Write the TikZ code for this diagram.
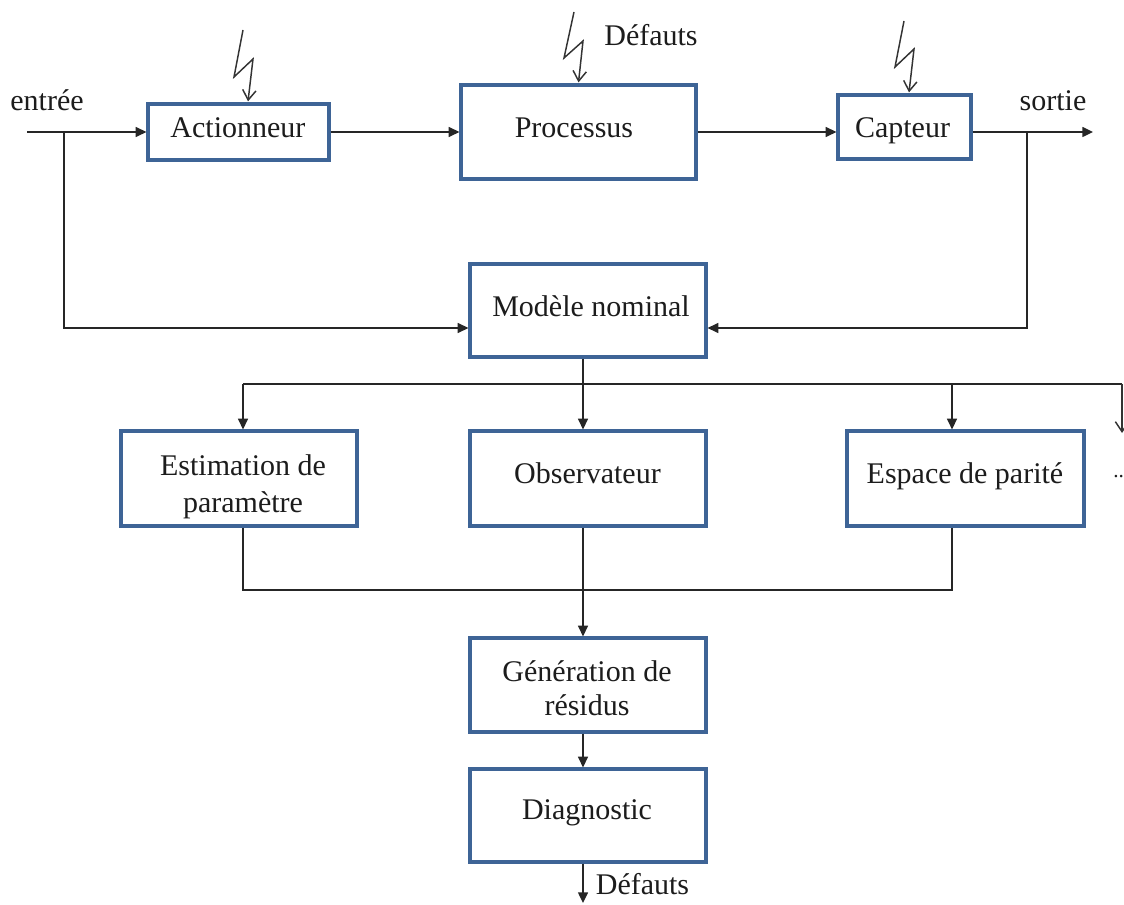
\documentclass[tikz,border=0pt]{standalone}
\usepackage{fontspec}
\setmainfont{Liberation Serif}
\usetikzlibrary{arrows.meta, calc}

\definecolor{boxblue}{RGB}{62,100,150}
\definecolor{txtgray}{RGB}{28,28,28}

\begin{document}
\begin{tikzpicture}[x=0.75pt,y=-0.75pt,
  block/.style={draw=boxblue,line width=2.4pt,rectangle,fill=white,inner sep=0pt},
  boxtext/.style={align=center,text=txtgray,font=\fontsize{22.5}{26}\selectfont,inner sep=0pt},
  oneline/.style={boxtext,text height=16pt,text depth=5pt},
  free/.style={text=txtgray,font=\fontsize{22.5}{26}\selectfont,inner sep=0pt,anchor=base},
  line/.style={line width=1.05pt,color=black!85},
  flow/.style={line,-{Triangle[length=8pt,width=7.5pt]}},
  bolt/.style={line width=1.1pt,color=black!80,-{Straight Barb[length=7.5pt,width=10pt]}}]
\useasboundingbox (0,0) rectangle (1124,905);
% top row
\node[block,minimum width=181pt*0.75,minimum height=56pt*0.75,label={[oneline,xshift=-0.4pt,yshift=1pt]center:Actionneur}] (act) at (238.5,132) {};
\node[block,minimum width=235pt*0.75,minimum height=94pt*0.75,label={[oneline,xshift=-3.4pt,yshift=1pt]center:Processus}] (proc) at (578.5,132) {};
\node[block,minimum width=133pt*0.75,minimum height=64pt*0.75,label={[oneline,xshift=-1.5pt,yshift=-2.75pt]center:Capteur}] (capt) at (904.5,127) {};
% model
\node[block,minimum width=236pt*0.75,minimum height=93pt*0.75,label={[oneline,xshift=2.25pt,yshift=1pt]center:Modèle nominal}] (model) at (588,310.5) {};
% methods
\node[block,minimum width=236pt*0.75,minimum height=95pt*0.75,label={[boxtext,font=\fontsize{22.5}{28}\selectfont,xshift=3pt,yshift=-6.3pt]center:Estimation de\\paramètre}] (estim) at (239,478.5) {};
\node[block,minimum width=236pt*0.75,minimum height=95pt*0.75,label={[oneline,xshift=-0.4pt,yshift=1.4pt]center:Observateur}] (obs) at (588,478.5) {};
\node[block,minimum width=237pt*0.75,minimum height=95pt*0.75,label={[oneline,xshift=-0.4pt,yshift=1.4pt]center:Espace de parité}] (parity) at (965.5,478.5) {};
% outputs
\node[block,minimum width=236pt*0.75,minimum height=94pt*0.75,label={[boxtext,xshift=-0.75pt,yshift=-2.5pt]center:Génération de\\résidus}] (resid) at (588,685) {};
\node[block,minimum width=236pt*0.75,minimum height=93pt*0.75,label={[oneline,xshift=-0.75pt,yshift=2.85pt]center:Diagnostic}] (diag) at (588,815.5) {};
% free texts
\node[free] (entree) at (47,111) {entrée};
\node[free] (sortie) at (1053,110.5) {sortie};
\node[free] (defauts) at (651,46) {Défauts};
\node[free] (defautsout) at (642.5,894) {Défauts};
\node[free,anchor=base west,font=\fontsize{16}{20}\selectfont] (dots) at (1113,477) {..};
% free ends
\coordinate (in) at (27,132);
\coordinate (out) at (1093,132);
\coordinate (inbranch) at (64,132);
\coordinate (outbranch) at (1027,132);
\coordinate (inlow) at (64,328);
\coordinate (outlow) at (1027,328);
\coordinate (busl) at (243,384);
\coordinate (busm) at (583,384);
\coordinate (busp) at (952,384);
\coordinate (busr) at (1122,384);
\coordinate (dotsin) at (1122,433);
\coordinate (suml) at (243,590);
\coordinate (summ) at (583,590);
\coordinate (sump) at (952,590);
\coordinate (end) at (583,903);
% signal path
\draw[flow] (in) -- (act.west);
\draw[flow] (act.east) -- (act.east -| proc.west);
\draw[flow] (proc.east) -- (proc.east -| capt.west);
\draw[flow] (capt.east |- out) -- (out);
% to the model
\draw[flow] (inbranch) -- (inlow) -- (model.west |- inlow);
\draw[flow] (outbranch) -- (outlow) -- (model.east |- outlow);
% bus
\draw[line] (busm |- model.south) -- (busm);
\draw[line] (busl) -- (busr);
\draw[flow] (busl) -- (busl |- estim.north);
\draw[flow] (busm) -- (busm |- obs.north);
\draw[flow] (busp) -- (busp |- parity.north);
\draw[bolt] (busr) -- (dotsin);
% sum
\draw[line] (suml |- estim.south) -- (suml) -- (sump) -- (sump |- parity.south);
\draw[flow] (summ |- obs.south) -- (summ |- resid.north);
\draw[flow] (summ |- resid.south) -- (summ |- diag.north);
\draw[flow] (summ |- diag.south) -- (end);
% faults
\draw[bolt] (243,30) -- (234,77) -- (253,59) -- ($(act.north)+(9.5,-1)$);
\draw[bolt] (574,12) -- (564,58) -- (583,41) -- ($(proc.north)+(0,-1)$);
\draw[bolt] (904,21) -- (895,67) -- (914,49) -- ($(capt.north)+(4.5,-1)$);
\end{tikzpicture}
\end{document}
